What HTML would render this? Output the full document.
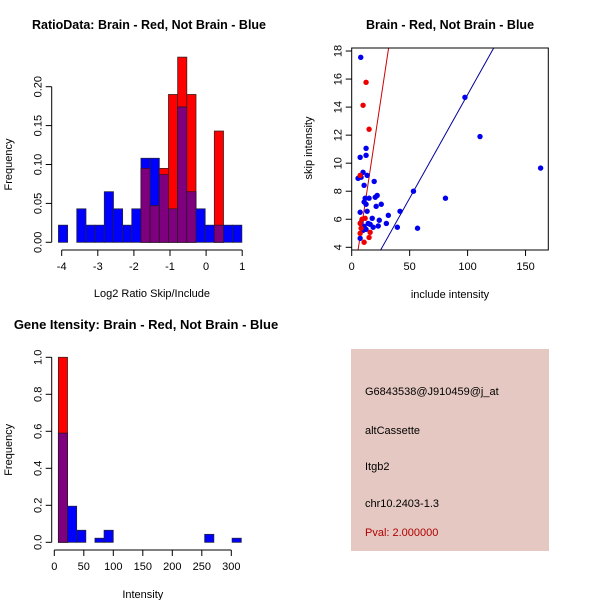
<!DOCTYPE html>
<html><head><meta charset="utf-8"><style>
body{margin:0;background:#fff}
svg{display:block;font-family:"Liberation Sans",sans-serif}
</style></head><body>
<svg id="s" width="600" height="600" xmlns="http://www.w3.org/2000/svg">
<rect width="600" height="600" fill="#fff"/>
<g id="p1"></g>
<g id="p2"></g>
<g id="p3"></g>
<g>
<rect x="351" y="349" width="198" height="202" fill="#e6c8c2"/>
<text x="365" y="395" font-size="11">G6843538@J910459@j_at</text>
<text x="365" y="434" font-size="11">altCassette</text>
<text x="365" y="470" font-size="11">Itgb2</text>
<text x="365" y="507" font-size="11">chr10.2403-1.3</text>
<text x="365" y="536" font-size="11" fill="#b00000">Pval: 2.000000</text>
</g>
</svg>
<script>
// Panel 1 data
const ratioBlue=[0.022,0,0.043,0.022,0.022,0.065,0.043,0.022,0.043,0.108,0.108,0.087,0.043,0.174,0.065,0.043,0.022,0.022,0.022,0.022];
const ratioRed=[0,0,0,0,0,0,0,0,0,0.095,0.047,0.095,0.19,0.238,0.19,0,0,0.143,0,0];
const ratioXTicks=[-4,-3,-2,-1,0,1];
const ratioYTicks=[0,0.05,0.10,0.15,0.20];
// Panel 2 data
const blueX=[7.8,97.7,110.7,80.9,53.3,56.8,41.7,39.4,31.6,29.9,25.5,23.8,22.9,22,20.3,21.1,19.4,18.5,17.7,15,14.2,12.4,12.4,7.3,13.3,9.8,5.5,8.1,10.7,11.6,10.7,12.4,13.3,7.3,8.1,10.7,12.4,15.9,7.3,9.8,163];
const blueY=[17.55,14.7,11.9,7.5,8.0,5.36,6.57,5.43,6.28,5.7,7.07,5.93,5.52,7.7,7.57,6.92,8.7,5.43,6.07,7.5,5.7,11.06,10.56,10.42,9.13,9.35,8.92,9.0,8.42,7.5,7.23,7.07,6.57,6.5,5.78,5.5,5.28,5.64,4.64,5.21,9.65];
const redX=[12.4,9.8,15,7.3,7.3,8.9,11.6,7.3,10.7,15,15.9,8.1];
const redY=[15.77,14.13,12.42,9.13,5.7,6.0,6.07,5.0,4.36,4.7,5.07,5.36];
const redLine=[0.8,0.547];
const blueLine=[0.12,0.1477];
const scatXTicks=[0,50,100,150];
const scatYTicks=[4,6,8,10,12,14,16,18];
// Panel 3 data
const intBlue=[0.59,0.195,0.065,0,0.022,0.065,0,0,0,0,0,0,0,0,0,0,0.043,0,0,0.022];
const intRed=[1.0,0,0,0,0,0,0,0,0,0,0,0,0,0,0,0,0,0,0,0];
const intXTicks=[0,50,100,150,200,250,300];
const intYTicks=[0,0.2,0.4,0.6,0.8,1.0];

const NS="http://www.w3.org/2000/svg";
function mk(p,t,a){const e=document.createElementNS(NS,t);for(const k in a)e.setAttribute(k,a[k]);p.appendChild(e);return e;}

function hist(g,blue,red,x0,bw,sx,sy,title,xlab,xt,yt,ylabFmt,axisY,axisX,titleX,titleY,xlabY,tfs){
  for(let i=0;i<blue.length;i++){
    const a=x0+i*bw,b=a+bw,bl=blue[i],rd=red[i];
    const mn=Math.min(bl,rd);
    if(bl>0){const r=mk(g,'rect',{x:sx(a),y:sy(bl),width:sx(b)-sx(a),height:sy(0)-sy(bl),fill:'#0000ff',stroke:'#202040','stroke-width':0.8});
      
      }
    if(rd>0){const r=mk(g,'rect',{x:sx(a),y:sy(rd),width:sx(b)-sx(a),height:sy(0)-sy(rd),fill:'#ff0000',stroke:'#402020','stroke-width':0.8});
      
      }
    if(mn>0){const r=mk(g,'rect',{x:sx(a),y:sy(mn),width:sx(b)-sx(a),height:sy(0)-sy(mn),fill:'#7f007f',stroke:'#301030','stroke-width':0.8});
      
      }
  }
  const ax=mk(g,'g',{stroke:'#000','stroke-width':1});
  
  
  mk(ax,'line',{x1:sx(xt[0]),x2:sx(xt[xt.length-1]),y1:axisX,y2:axisX});
  xt.forEach(v=>{mk(ax,'line',{x1:sx(v),x2:sx(v),y1:axisX,y2:axisX+6});
    const t=mk(g,'text',{x:sx(v),y:axisX+20,'font-size':11,'text-anchor':'middle'});t.textContent=v;
    
    });
  mk(ax,'line',{x1:axisY,x2:axisY,y1:sy(yt[0]),y2:sy(yt[yt.length-1])});
  yt.forEach(v=>{mk(ax,'line',{x1:axisY,x2:axisY-6,y1:sy(v),y2:sy(v)});
    const t=mk(g,'text',{x:axisY-10,y:sy(v),'font-size':11,'text-anchor':'middle',transform:`rotate(-90 ${axisY-10} ${sy(v)})`});t.textContent=ylabFmt(v);
    
    });
  const tt=mk(g,'text',{x:titleX,y:titleY,'font-size':tfs,'font-weight':'bold','text-anchor':'middle'});tt.textContent=title;
  
  
  const xl=mk(g,'text',{x:(sx(xt[0])+sx(xt[xt.length-1]))/2,y:xlabY,'font-size':11,'text-anchor':'middle'});xl.textContent=xlab;
  
  
  const ym=(sy(yt[0])+sy(yt[yt.length-1]))/2;
  const yl=mk(g,'text',{x:12,y:ym,'font-size':11,'text-anchor':'middle',transform:`rotate(-90 12 ${ym})`});yl.textContent='Frequency';
  
  
}

// Panel 1
{const g=document.getElementById('p1');
 const sx=v=>61.7+(v+4)*36.1, sy=v=>242.3-v*778;
 hist(g,ratioBlue,ratioRed,-4.09,0.254,sx,sy,'RatioData: Brain - Red, Not Brain - Blue','Log2 Ratio Skip/Include',ratioXTicks,ratioYTicks,v=>v.toFixed(2),51.7,250,149,29,297,12.5);}
// Panel 3
{const g=document.getElementById('p3');
 const sx=v=>54.3+v*0.59, sy=v=>542.3-v*185;
 hist(g,intBlue,intRed,6.9,15.5,sx,sy,'Gene Itensity: Brain - Red, Not Brain - Blue','Intensity',intXTicks,intYTicks,v=>v.toFixed(1),51.7,550,146,329,598,13);}
// Panel 2
{const g=document.getElementById('p2');
 const sx=v=>351.7+v*1.159, sy=v=>247.3-(v-4)*14.02;
 const L=351.7,R=548.3,T=48,B=250;
 const cp=mk(g,'clipPath',{id:'cp'});mk(cp,'rect',{x:L,y:T,width:R-L,height:B-T});
 const lines=[[redLine,'#cc0000','red-fit-line'],[blueLine,'#000099','blue-fit-line']];
 lines.forEach(([c,col,nm])=>{const y1=3,y2=19;
   const l=mk(g,'line',{x1:sx((y1-c[0])/c[1]),y1:sy(y1),x2:sx((y2-c[0])/c[1]),y2:sy(y2),stroke:col,'stroke-width':1,'clip-path':'url(#cp)'});
   
   });
 blueX.forEach((x,i)=>{const c=mk(g,'circle',{cx:sx(x),cy:sy(blueY[i]),r:2.7,fill:'#0000ee'});
   
   });
 redX.forEach((x,i)=>{const c=mk(g,'circle',{cx:sx(x),cy:sy(redY[i]),r:2.7,fill:'#ee0000'});
   
   });
 const box=mk(g,'rect',{x:L,y:T,width:R-L,height:B-T,fill:'none',stroke:'#000'});
 
 
 scatXTicks.forEach(v=>{mk(g,'line',{x1:sx(v),x2:sx(v),y1:B,y2:B+6,stroke:'#000'});
   const t=mk(g,'text',{x:sx(v),y:B+20,'font-size':11,'text-anchor':'middle'});t.textContent=v;
   
   });
 scatYTicks.forEach(v=>{mk(g,'line',{x1:L,x2:L-6,y1:sy(v),y2:sy(v),stroke:'#000'});
   const t=mk(g,'text',{x:L-10,y:sy(v),'font-size':11,'text-anchor':'middle',transform:`rotate(-90 ${L-10} ${sy(v)})`});t.textContent=v;
   
   });
 const tt=mk(g,'text',{x:450,y:29,'font-size':12.5,'font-weight':'bold','text-anchor':'middle'});tt.textContent='Brain - Red, Not Brain - Blue';
 
 
 const xl=mk(g,'text',{x:450,y:298,'font-size':11,'text-anchor':'middle'});xl.textContent='include intensity';
 
 
 const yl=mk(g,'text',{x:312,y:148,'font-size':11,'text-anchor':'middle',transform:'rotate(-90 312 148)'});yl.textContent='skip intensity';
 
 }
</script>
</body></html>
